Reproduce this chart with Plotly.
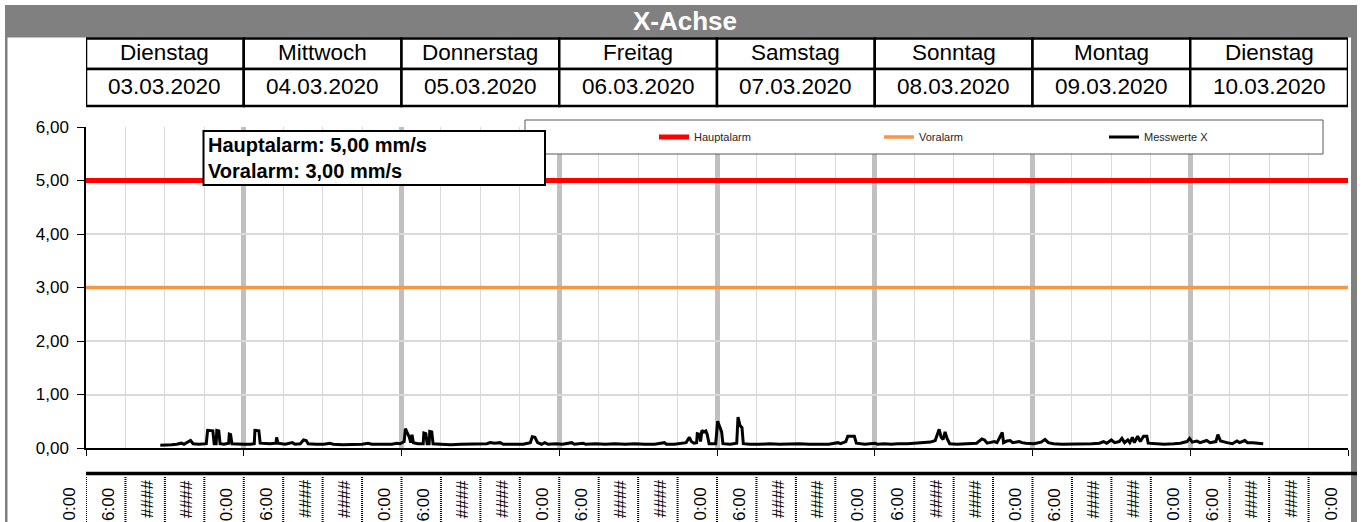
import pandas as pd
import plotly.graph_objects as go

# ---------------- data ----------------
start_day = "2020-03-03"
day_names = ["Dienstag", "Mittwoch", "Donnerstag", "Freitag", "Samstag", "Sonntag", "Montag", "Dienstag"]
day_dates = ["03.03.2020", "04.03.2020", "05.03.2020", "06.03.2020", "07.03.2020", "08.03.2020", "09.03.2020", "10.03.2020"]
time_labels = ["0:00", "6:00", "####", "####"] * 8 + ["0:00"]

hauptalarm = 5.0
voralarm = 3.0

# hours since 03.03.2020 0:00 and measured values (mm/s)
t_hours = [
    11.3, 12.2, 13.0, 13.8, 14.5, 14.9, 15.5, 15.9, 16.3, 17.2, 18.3, 18.5, 19.3, 19.5, 19.8, 19.9, 20.2, 20.4,
    21.0, 21.7, 21.8, 22.0, 22.2, 23.0, 24.0,
    25.0, 25.6, 25.7, 26.3, 26.5, 27.2, 28.0, 28.9, 29.0, 29.2, 30.3, 31.4, 31.8, 32.6, 33.1, 33.5, 33.8,
    35.0, 36.2, 37.1, 37.6, 39.0, 40.5, 42.0, 42.9, 43.5, 45.0, 46.5, 47.3, 47.8,
    48.4, 48.6, 48.9, 49.2, 49.4, 49.6, 49.8, 50.5, 51.3, 51.4, 51.7, 51.9, 52.2, 52.3, 52.6, 52.8,
    54.0, 55.5, 57.0, 58.5, 60.0, 61.0, 61.5, 62.2, 63.0, 63.5, 65.0, 66.5, 67.6, 67.9, 68.3, 68.7,
    69.3, 69.8, 70.3, 71.5,
    72.5, 73.9, 74.3, 75.6, 76.0, 77.5, 79.0, 80.5, 82.0, 83.5, 85.0, 86.5, 88.0, 88.3, 89.5, 90.6,
    91.3, 91.8, 92.1, 92.5, 92.9, 93.0, 93.3, 93.5, 93.7, 94.0, 94.3, 94.5, 94.8, 95.8,
    96.1, 96.4, 96.7, 96.9, 98.0, 99.0, 99.2, 99.5, 99.8, 100.0, 101.0, 102.5, 104.0, 105.5, 107.0,
    108.5, 110.0, 111.5, 113.0, 114.4, 114.8, 115.6, 115.9, 116.9, 117.2, 118.5,
    120.0, 120.4, 121.5, 122.5, 123.5, 125.0, 126.5, 127.5, 128.5, 129.2, 129.8, 130.1, 130.4, 130.7,
    131.0, 131.4, 132.5, 134.0, 135.5, 136.3, 136.7, 137.1, 138.2, 138.6, 139.4, 139.6, 140.1, 140.6,
    141.0, 142.0, 142.4, 143.0, 143.6,
    144.2, 145.3, 145.9, 146.4, 147.2, 148.5, 150.0, 151.5, 153.0, 154.2, 154.8, 155.3, 156.0, 156.5,
    157.2, 157.6, 158.0, 158.5, 158.8, 159.2, 159.5, 160.0, 160.4, 160.9, 161.4, 161.6, 162.5, 164.0,
    165.5, 166.5, 167.5,
    167.9, 168.3, 169.0, 169.5, 170.5, 171.0, 171.9, 172.2, 172.6, 173.6, 174.4, 175.1, 175.5, 176.3,
    176.7, 177.5, 178.3, 179.1,
]
x_values = [
    0.05, 0.05, 0.06, 0.07, 0.09, 0.07, 0.12, 0.14, 0.08, 0.07, 0.08, 0.33, 0.32, 0.08, 0.08, 0.33, 0.32, 0.08,
    0.07, 0.09, 0.26, 0.25, 0.08, 0.07, 0.07,
    0.07, 0.08, 0.33, 0.32, 0.09, 0.08, 0.08, 0.09, 0.20, 0.09, 0.07, 0.10, 0.07, 0.08, 0.15, 0.14, 0.08,
    0.07, 0.07, 0.09, 0.07, 0.06, 0.07, 0.07, 0.09, 0.07, 0.07, 0.07, 0.09, 0.08,
    0.12, 0.36, 0.28, 0.20, 0.10, 0.25, 0.10, 0.08, 0.08, 0.28, 0.27, 0.08, 0.08, 0.31, 0.30, 0.08,
    0.07, 0.06, 0.07, 0.07, 0.07, 0.08, 0.10, 0.09, 0.10, 0.07, 0.07, 0.07, 0.10, 0.21, 0.20, 0.10,
    0.07, 0.10, 0.07, 0.08,
    0.07, 0.10, 0.07, 0.09, 0.07, 0.08, 0.07, 0.08, 0.07, 0.08, 0.07, 0.07, 0.10, 0.07, 0.07, 0.08,
    0.10, 0.20, 0.12, 0.09, 0.10, 0.27, 0.26, 0.12, 0.33, 0.30, 0.32, 0.26, 0.08, 0.08,
    0.50, 0.40, 0.30, 0.08, 0.07, 0.09, 0.58, 0.42, 0.38, 0.08, 0.07, 0.07, 0.08, 0.07, 0.08,
    0.08, 0.07, 0.07, 0.07, 0.10, 0.08, 0.12, 0.22, 0.22, 0.09, 0.07,
    0.09, 0.07, 0.08, 0.07, 0.08, 0.08, 0.09, 0.09, 0.11, 0.14, 0.35, 0.20, 0.16, 0.30,
    0.18, 0.08, 0.07, 0.08, 0.09, 0.17, 0.15, 0.09, 0.12, 0.10, 0.29, 0.10, 0.13, 0.14,
    0.10, 0.12, 0.10, 0.09, 0.09,
    0.08, 0.11, 0.16, 0.10, 0.08, 0.07, 0.07, 0.07, 0.08, 0.09, 0.12, 0.09, 0.15, 0.10,
    0.12, 0.18, 0.10, 0.15, 0.10, 0.20, 0.10, 0.22, 0.12, 0.22, 0.22, 0.09, 0.08, 0.07,
    0.08, 0.09, 0.12,
    0.18, 0.11, 0.13, 0.10, 0.14, 0.10, 0.12, 0.25, 0.13, 0.10, 0.08, 0.13, 0.10, 0.14,
    0.10, 0.10, 0.09, 0.08,
]

# ---------------- derived ----------------
t0 = pd.Timestamp(start_day)
times = t0 + pd.to_timedelta(t_hours, unit="h")
day_starts = [t0 + pd.Timedelta(days=i) for i in range(len(day_names) + 1)]
x_start, x_end = day_starts[0], day_starts[-1]
label_times = [t0 + pd.Timedelta(hours=6 * k) for k in range(len(time_labels))]

# page geometry helpers (plot area in pixels)
W, H = 1362, 522
L, R, T, B = 86, 1348, 127, 448


def px(xp):
    return (xp - L) / (R - L)


def py(yp):
    return (B - yp) / (B - T)


FONT = "Arial, Liberation Sans, sans-serif"

fig = go.Figure()
fig.add_trace(go.Scatter(x=[x_start, x_end], y=[hauptalarm, hauptalarm], mode="lines",
                         name="Hauptalarm", line=dict(color="#ff0000", width=5)))
fig.add_trace(go.Scatter(x=[x_start, x_end], y=[voralarm, voralarm], mode="lines",
                         name="Voralarm", line=dict(color="#f79646", width=3.5)))
fig.add_trace(go.Scatter(x=times, y=x_values, mode="lines", name="Messwerte X",
                         line=dict(color="#000000", width=3)))

shapes = []
annotations = []

# outer gray frame and title band
shapes.append(dict(type="rect", xref="paper", yref="paper", x0=px(5), x1=px(1357), y0=py(37.5), y1=py(5),
                   fillcolor="#808080", line=dict(width=0), layer="above"))
shapes.append(dict(type="rect", xref="paper", yref="paper", x0=px(5), x1=px(7.5), y0=py(525), y1=py(37),
                   fillcolor="#808080", line=dict(width=0), layer="above"))
shapes.append(dict(type="rect", xref="paper", yref="paper", x0=px(1351), x1=px(1357), y0=py(525), y1=py(37),
                   fillcolor="#808080", line=dict(width=0), layer="above"))
annotations.append(dict(text="<b>X-Achse</b>", xref="paper", yref="paper", x=px(685), y=py(21),
                        xanchor="center", yanchor="middle", showarrow=False,
                        font=dict(family=FONT, size=26, color="white")))

# header table (days / dates)
row_top, row_mid, row_bot = py(38.5), py(69), py(106)
for i, (name, date) in enumerate(zip(day_names, day_dates)):
    d0, d1 = day_starts[i], day_starts[i + 1]
    for y0, y1 in ((row_mid, row_top), (row_bot, row_mid)):
        shapes.append(dict(type="rect", xref="x", yref="paper", x0=d0, x1=d1, y0=y0, y1=y1,
                           line=dict(color="black", width=2.5), fillcolor="white", layer="above"))
    mid = d0 + (d1 - d0) / 2
    annotations.append(dict(text=name, xref="x", yref="paper", x=mid, y=(row_top + row_mid) / 2,
                            xanchor="center", yanchor="middle",
                            showarrow=False, font=dict(family=FONT, size=22.5, color="black"), yshift=1))
    annotations.append(dict(text=date, xref="x", yref="paper", x=mid, y=(row_mid + row_bot) / 2,
                            xanchor="center", yanchor="middle",
                            showarrow=False, font=dict(family=FONT, size=22.5, color="black"), yshift=1))

# legend frame
shapes.append(dict(type="rect", xref="paper", yref="paper", x0=px(525), x1=px(1323), y0=py(154), y1=py(120),
                   line=dict(color="#595959", width=1), fillcolor="white", layer="above"))

# alarm info box
shapes.append(dict(type="rect", xref="paper", yref="paper", x0=px(203.5), x1=px(545), y0=py(185), y1=py(131),
                   line=dict(color="black", width=2), fillcolor="white", layer="above"))
annotations.append(dict(text="<b>Hauptalarm: %s mm/s</b><br><b>Voralarm: %s mm/s</b>"
                             % (f"{hauptalarm:.2f}".replace(".", ","), f"{voralarm:.2f}".replace(".", ",")),
                        xref="paper", yref="paper", x=px(206), y=py(158), xanchor="left", yanchor="middle",
                        align="left", showarrow=False, font=dict(family=FONT, size=20, color="black")))

# bottom time-label strip
shapes.append(dict(type="line", xref="paper", yref="paper", x0=px(86), x1=px(1357), y0=py(473.5), y1=py(473.5),
                   line=dict(color="black", width=3.5), layer="above"))
for k, (lt, lab) in enumerate(zip(label_times, time_labels)):
    if k < len(time_labels) - 1:
        shapes.append(dict(type="line", xref="x", yref="paper", x0=lt, x1=lt, y0=py(522), y1=py(477),
                           line=dict(color="black", width=2, dash="1px,1px"), layer="above"))
    is_hash = lab.startswith("#")
    annotations.append(dict(text=lab, xref="x", yref="paper", x=lt, y=py(499 if is_hash else 504.5),
                            xshift=-17, textangle=-90, showarrow=False, xanchor="center", yanchor="middle",
                            font=dict(family=FONT, size=17, color="black")))

fig.update_layout(
    width=W, height=H,
    margin=dict(l=L, r=W - R, t=T, b=H - B, pad=0),
    paper_bgcolor="white", plot_bgcolor="white",
    separators=",.",
    font=dict(family=FONT, color="black"),
    showlegend=True,
    legend=dict(orientation="h", x=px(654), y=py(137), xanchor="left", yanchor="middle",
                bgcolor="rgba(0,0,0,0)", borderwidth=0, entrywidth=180, entrywidthmode="pixels",
                font=dict(family=FONT, size=11, color="#262626"), itemwidth=30, tracegroupgap=0),
    shapes=shapes,
    annotations=annotations,
    xaxis=dict(type="date", range=[x_start, x_end], showticklabels=False,
               tick0=x_start, dtick=86400000, ticks="outside", ticklen=6, tickcolor="black",
               showgrid=True, gridcolor="#c0c0c0", gridwidth=4.5,
               minor=dict(dtick=6 * 3600000, tick0=x_start, showgrid=True, gridcolor="#d9d9d9", gridwidth=1),
               showline=True, linecolor="black", linewidth=1.5, zeroline=False, fixedrange=True),
    yaxis=dict(range=[0, 6], dtick=1, tickformat=".2f", ticks="outside", ticklen=7, tickcolor="black",
               tickfont=dict(family=FONT, size=17, color="black"), ticklabelstandoff=5,
               showgrid=True, gridcolor="#d9d9d9", gridwidth=1.5,
               showline=True, linecolor="black", linewidth=1.5, zeroline=False, fixedrange=True),
)

fig.write_html("out.html", config={"displayModeBar": False},
               post_script="document.body.style.margin='0';document.body.style.overflow='hidden';")
